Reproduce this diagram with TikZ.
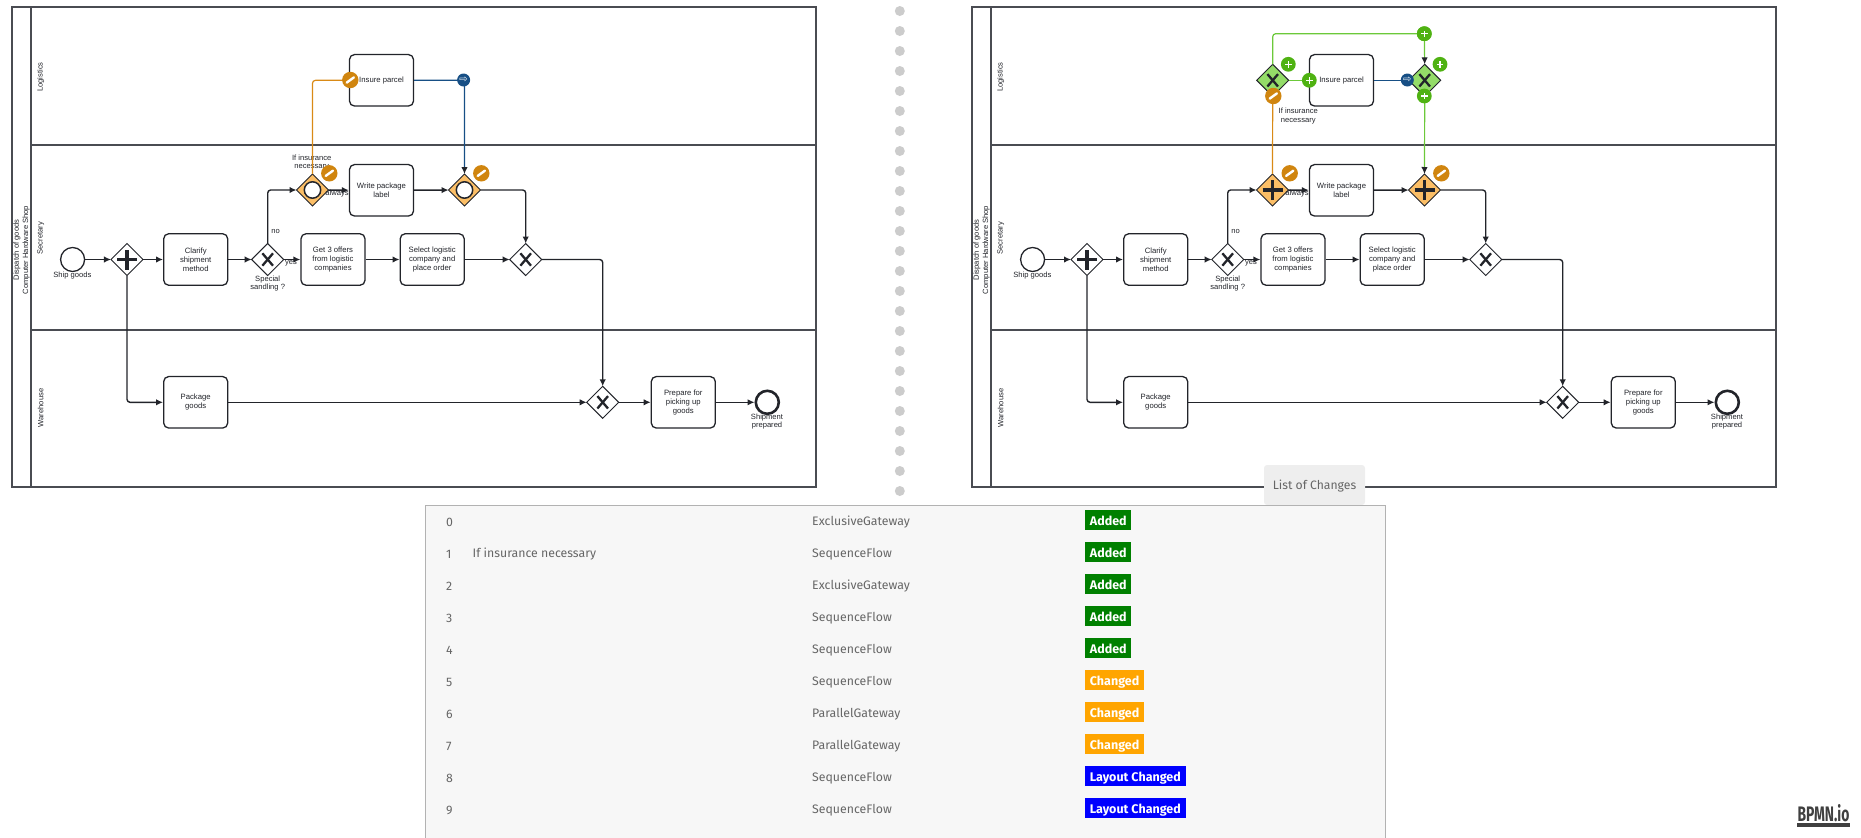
\documentclass[tikz,border=0pt]{standalone}
\usepackage{fontspec}
\setmainfont{Liberation Sans}
\newfontfamily\plexfont{Fira Sans}
\newfontfamily\symbfont{DejaVu Sans}
\usetikzlibrary{arrows.meta,shapes.geometric}
\definecolor{inkTask}{HTML}{22242A}
\definecolor{inkPool}{HTML}{4A4C52}
\definecolor{fillChanged}{HTML}{FBBE66}
\definecolor{fillAdded}{HTML}{94DC68}
\definecolor{markChanged}{HTML}{D0850F}
\definecolor{markAdded}{HTML}{4FB212}
\definecolor{markLayout}{HTML}{174F85}
\definecolor{lineChanged}{HTML}{D98A16}
\definecolor{lineAdded}{HTML}{6CC93A}
\definecolor{tableGrey}{HTML}{666666}
\definecolor{badgeGreen}{HTML}{008000}
\definecolor{badgeOrange}{HTML}{FFA500}
\definecolor{badgeBlue}{HTML}{0000FF}
\tikzset{
	poolline/.style={draw=inkPool, line width=1.1pt},
	lanetext/.style={rotate=90, font=\fontsize{7.6}{9.3}\selectfont, align=center, text=inkTask, inner sep=0pt},
	tasknode/.style={draw=inkTask, fill=white, line width=1.3pt, rounded corners=5pt, minimum width=64pt, minimum height=51.5pt, inner sep=0pt, align=center, font=\fontsize{7.7}{9}\selectfont, text=inkTask},
	eventtext/.style={font=\fontsize{7.6}{8.6}\selectfont, align=center, inner sep=0pt, text=inkTask},
	gatenode/.style={diamond, aspect=1, draw=inkTask, fill=white, line width=1pt, minimum size=32pt, inner sep=0pt, outer sep=0pt},
	xorgate/.style={gatenode, path picture={
		\draw[inkTask, line width=2.3pt] (path picture bounding box.center) ++(-5.3pt,-6.2pt) -- ++(10.6pt,12.4pt);
		\draw[inkTask, line width=2.3pt] (path picture bounding box.center) ++(-5.3pt,6.2pt) -- ++(10.6pt,-12.4pt);}},
	plusgate/.style={gatenode, path picture={
		\draw[inkTask, line width=3.3pt] (path picture bounding box.center) ++(-10pt,0pt) -- ++(20pt,0pt);
		\draw[inkTask, line width=3.3pt] (path picture bounding box.center) ++(0pt,-10pt) -- ++(0pt,20pt);}},
	ringgate/.style={gatenode, path picture={
		\draw[inkTask, fill=white, line width=1.5pt] (path picture bounding box.center) circle (8.2pt);}},
	flowline/.style={draw=inkTask, line width=1.4pt, rounded corners=3pt, -{Latex[length=7pt,width=6.5pt]}},
	darktip/.style={-{Latex[length=7pt,width=6.5pt,color=inkTask]}},
	markcut/.style={circle, fill=markChanged, inner sep=0pt, minimum size=16.4pt, path picture={
		\draw[white, line width=2.4pt, line cap=round] (path picture bounding box.center) ++(-3.6pt,-2.6pt) -- ++(7.2pt,5.2pt);}},
	markplus/.style={circle, fill=markAdded, inner sep=0pt, minimum size=14.8pt, path picture={
		\draw[white, line width=1.5pt] (path picture bounding box.center) ++(-3.2pt,0pt) -- ++(6.4pt,0pt);
		\draw[white, line width=1.5pt] (path picture bounding box.center) ++(0pt,-3.2pt) -- ++(0pt,6.4pt);}},
	markmove/.style={circle, fill=markLayout, inner sep=0pt, minimum size=13pt, text=white, font=\symbfont\fontsize{10}{10}\selectfont},
	rowtext/.style={anchor=west, inner sep=0pt, text=tableGrey, font=\plexfont\fontsize{12.3}{15}\selectfont},
	badge/.style={anchor=west, text=white, inner xsep=4.7pt, inner ysep=0pt, minimum height=20pt, text height=12pt, text depth=1.2pt, font=\plexfont\bfseries\fontsize{12.5}{15}\selectfont},
	dotmark/.style={circle, fill=black!20, inner sep=0pt, minimum size=10pt},
}
% one pool, drawn twice; #1 is the look of the two merged gateways
\newcommand{\dispatchPool}[1]{
	\draw[poolline] (12,7) rectangle (816,487);
	\draw[poolline] (31,7) -- (31,487);
	\draw[poolline] (31,145) -- (816,145);
	\draw[poolline] (31,330) -- (816,330);
	\node[lanetext] (poolname) at (21.5,250) {Dispatch of goods\\Computer Hardware Shop};
	\node[lanetext] (logistics) at (40.7,77) {Logistics};
	\node[lanetext] (secretary) at (40.7,238.3) {Secretary};
	\node[lanetext] (warehouse) at (40.7,408) {Warehouse};

	\node[circle, draw=inkTask, fill=white, line width=1.3pt, minimum size=24pt, inner sep=0pt] (shipgoods) at (72.6,259.5) {};
	\node[eventtext] (shipgoodstext) at (72.3,275.3) {Ship goods};
	\node[plusgate] (split) at (127,259.5) {};
	\node[tasknode] (clarify) at (195.7,259.5) {Clarify\\shipment\\method};
	\node[xorgate] (special) at (267.7,259.5) {};
	\node[eventtext] (specialtext) at (267.7,283.5) {Special\\sandling ?};
	\node[tasknode] (offers) at (333,259.5) {Get 3 offers\\from logistic\\companies};
	\node[tasknode] (select) at (432.2,259.5) {Select logistic\\company and\\place order};
	\node[xorgate] (merge) at (525.7,259.5) {};
	\node[tasknode] (insure) at (381.5,80.3) {Insure parcel};
	\node[tasknode] (label) at (381.5,190.3) {Write package\\label};
	\node[#1, fill=fillChanged] (gateA) at (312.5,190) {};
	\node[#1, fill=fillChanged] (gateB) at (464.5,190) {};
	\node[tasknode] (package) at (195.7,402.3) {Package\\goods};
	\node[xorgate] (join) at (602.7,402.3) {};
	\node[tasknode] (prepare) at (683.3,402.3) {Prepare for\\picking up\\goods};
	\node[circle, draw=inkTask, fill=white, line width=2.6pt, minimum size=23pt, inner sep=0pt] (prepared) at (767.3,402.3) {};
	\node[eventtext] (preparedtext) at (767,421.7) {Shipment\\prepared};

	\node[eventtext] (notext) at (275.7,231.7) {no};
	\node[eventtext] (yestext) at (291,263) {yes};
	\node[eventtext] (alwaystext) at (337,193.7) {always};

	\draw[flowline] (shipgoods) -- (split);
	\draw[flowline] (split) -- (clarify);
	\draw[flowline] (split.south) |- (package.west);
	\draw[flowline] (clarify) -- (special);
	\draw[flowline] (special.north) |- (gateA.west);
	\draw[flowline] (special) -- (offers);
	\draw[flowline] (offers) -- (select);
	\draw[flowline] (select) -- (merge);
	\draw[flowline] (gateA) -- (label);
	\draw[flowline] (label) -- (gateB);
	\draw[flowline] (gateB.east) -| (merge.north);
	\draw[flowline] (merge.east) -| (join.north);
	\draw[flowline] (package) -- (join);
	\draw[flowline] (join) -- (prepare);
	\draw[flowline] (prepare) -- (prepared);
}
\begin{document}
\begin{tikzpicture}[x=1pt, y=-1pt]
	\useasboundingbox (0,0) rectangle (1861,838);
	\begin{scope}[name prefix=old-]
		\dispatchPool{ringgate}
		\node[eventtext] (insurancetext) at (311.7,162.5) {If insurance\\necessary};
		\draw[draw=lineChanged, line width=1.2pt, rounded corners=3pt] (gateA.north) |- (insure.west);
		\draw[draw=markLayout, line width=1.2pt, rounded corners=3pt, darktip] (insure.east) -| (gateB.north);
		\node[markcut] (cutflow) at (350.3,80) {};
		\node[markmove] (moveflow) at (463.6,80) {⇨};
		\node[markcut] (cutgateA) at (329.3,173.3) {};
		\node[markcut] (cutgateB) at (481.3,173.3) {};
	\end{scope}
	\foreach \n in {0,...,24}{
		\node[dotmark] (dot\n) at (899.8,11+20*\n) {};
	}
	\begin{scope}[xshift=960pt, name prefix=new-]
		\dispatchPool{plusgate}
		\node[gatenode, xorgate, fill=fillAdded] (addA) at (312.7,80.3) {};
		\node[gatenode, xorgate, fill=fillAdded] (addB) at (464.7,80.3) {};
		\node[eventtext] (insurancetext) at (338.3,116.2) {If insurance\\necessary};
		\node[markplus] (plusTop) at (464.3,33.7) {};
		\draw[draw=lineChanged, line width=1.2pt] (gateA.north) -- (addA.south);
		\draw[draw=lineAdded, line width=1.2pt] (addA.east) -- (insure.west);
		\draw[draw=markLayout, line width=1.2pt] (insure.east) -- (addB.west);
		\draw[draw=lineAdded, line width=1.2pt, rounded corners=3pt] (addA.north) |- (plusTop.center);
		\draw[draw=lineAdded, line width=1.2pt, darktip] (plusTop.center) -- (addB.north);
		\draw[draw=lineAdded, line width=1.2pt, darktip] (addB.south) -- (gateB.north);
		\node[markplus] (plusTop) at (464.3,33.7) {};
		\node[markplus] (plusA) at (328.3,64.3) {};
		\node[markplus] (plusB) at (480,64.3) {};
		\node[markplus] (plusIn) at (349.3,80.3) {};
		\node[markplus] (plusOut) at (464.3,96) {};
		\node[markmove] (moveflow) at (447.3,80) {⇨};
		\node[markcut] (cutA) at (313.3,96) {};
		\node[markcut] (cutgateA) at (329.7,173.3) {};
		\node[markcut] (cutgateB) at (481.3,173.3) {};
	\end{scope}
	%table of changes
	\node[fill=black!6.5, rounded corners=3pt, minimum width=101pt, minimum height=40pt, inner sep=0pt] (tab) at (1314.5,485) {};
	\node[text=tableGrey, inner sep=0pt, font=\plexfont\fontsize{12.2}{15}\selectfont] (tabtext) at (1314.5,486) {List of Changes};
	\fill[black!3] (425,505) rectangle (1385.5,838);
	\draw[black!30, line width=1pt] (425,838) -- (425,505) -- (1385.5,505) -- (1385.5,838);
	\foreach \idx/\kind/\state/\tint in {0/ExclusiveGateway/Added/badgeGreen,1/SequenceFlow/Added/badgeGreen,2/ExclusiveGateway/Added/badgeGreen,3/SequenceFlow/Added/badgeGreen,4/SequenceFlow/Added/badgeGreen,5/SequenceFlow/Changed/badgeOrange,6/ParallelGateway/Changed/badgeOrange,7/ParallelGateway/Changed/badgeOrange,8/SequenceFlow/Layout Changed/badgeBlue,9/SequenceFlow/Layout Changed/badgeBlue}{
		\node[rowtext] (index\idx) at (446,522+32*\idx) {\idx};
		\node[rowtext] (kind\idx) at (812,522+32*\idx) {\kind};
		\node[badge, fill=\tint] (state\idx) at (1085,520+32*\idx) {\state};
	}
	\node[rowtext] (flowname) at (472.5,554) {If insurance necessary};
	%logo
	\node[xscale=.66, inner sep=0pt, text=black!75, font=\plexfont\bfseries\fontsize{21}{21}\selectfont] (logo) at (1823.5,813.5) {BPMN.io};
	\fill[black!75] (1797,823) rectangle (1850,827);
\end{tikzpicture}
\end{document}
